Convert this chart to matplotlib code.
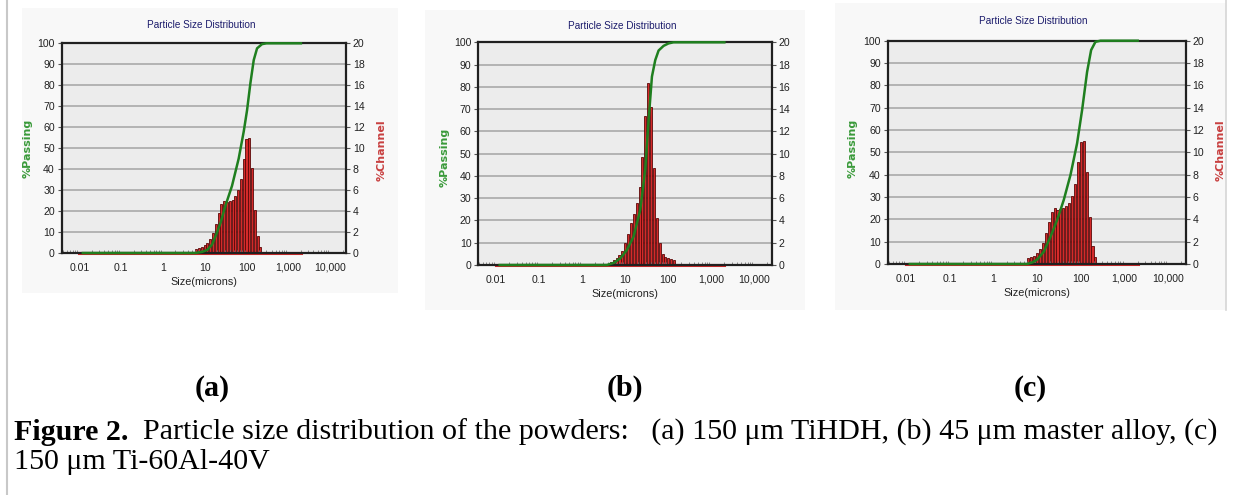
import numpy as np
import matplotlib
matplotlib.use('Agg')
import matplotlib.pyplot as plt
from matplotlib.ticker import LogLocator, NullFormatter
from matplotlib.patches import Rectangle
from matplotlib.lines import Line2D

# ---------------- data ----------------
x_ticks = [0.01, 0.1, 1, 10, 100, 1000, 10000]
x_tick_labels = ['0.01', '0.1', '1', '10', '100', '1,000', '10,000']
left_ticks = [0, 10, 20, 30, 40, 50, 60, 70, 80, 90, 100]
right_ticks = [0, 2, 4, 6, 8, 10, 12, 14, 16, 18, 20]
baseline_x = [0.01, 2000]
baseline_y = [0, 0]

# (a) 150 um TiHDH
sizes_a = [6.31, 7.36, 8.58, 10.0, 11.66, 13.59, 15.85, 18.48, 21.54, 25.12, 29.29, 34.15,
           39.81, 46.42, 54.12, 63.10, 73.56, 85.77, 100.0, 116.6, 135.9, 158.5, 184.8, 215.4]
chan_a = [0.4, 0.5, 0.6, 0.8, 1.0, 1.3, 1.9, 2.8, 3.8, 4.7, 5.0, 4.9,
          5.0, 5.1, 5.4, 6.0, 7.1, 9.0, 10.9, 11.0, 8.1, 4.1, 1.65, 0.6]
cum_a_size = [0.0122, 6.0, 8.6, 11.4, 15, 18, 23.8, 31.3, 45, 65, 86, 103, 124, 149, 179, 235, 300, 2000]
cum_a = [0, 0, 0.5, 1.4, 4.0, 7.8, 14.2, 22.5, 32, 45, 58, 68, 81, 92, 97.6, 99.6, 100, 100]

# (b) 45 um master alloy
sizes_b = [4.64, 5.41, 6.31, 7.36, 8.58, 10.0, 11.66, 13.59, 15.85, 18.48, 21.54, 25.12,
           29.29, 34.15, 39.81, 46.42, 54.12, 63.10, 73.56, 85.77, 100.0, 116.6, 135.9]
chan_b = [0.25, 0.45, 0.65, 0.9, 1.3, 2.0, 2.8, 3.8, 4.6, 5.6, 7.0, 9.7,
          13.4, 16.3, 14.2, 8.7, 4.2, 2.0, 1.0, 0.75, 0.6, 0.5, 0.45]
cum_b_size = [0.0122, 3.76, 5.5, 7.7, 10.9, 15.6, 22.3, 29.1, 34.9, 41.7, 49.8, 59.5, 77.6, 101, 132, 2000]
cum_b = [0, 0, 1.0, 3.0, 6.7, 12.7, 24.7, 42.7, 65, 84.6, 92, 96.3, 98.4, 99.5, 100, 100]

# (c) 150 um Ti-60Al-40V
sizes_c = [6.31, 7.36, 8.58, 10.0, 11.66, 13.59, 15.85, 18.48, 21.54, 25.12, 29.29, 34.15,
           39.81, 46.42, 54.12, 63.10, 73.56, 85.77, 100.0, 116.6, 135.9, 158.5, 184.8, 215.4]
chan_c = [0.5, 0.6, 0.7, 0.95, 1.3, 1.85, 2.8, 3.8, 4.7, 5.0, 4.85, 4.9,
          5.0, 5.2, 5.5, 6.1, 7.2, 9.1, 10.9, 11.05, 8.2, 4.2, 1.65, 0.6]
cum_c_size = [0.0122, 5.9, 8.0, 10, 14.2, 20.2, 28.7, 40.7, 58, 82, 107, 139, 172, 216, 282, 2000]
cum_c = [0, 0, 0.8, 2.0, 5.5, 12.2, 19.7, 28.7, 39.9, 54, 69, 86, 95.8, 99.5, 100, 100]

title_text = 'Particle Size Distribution'
xlabel_text = 'Size(microns)'
left_label = '%Passing'
right_label = '%Channel'
panel_tags = ['(a)', '(b)', '(c)']
caption_bold = 'Figure 2.'
caption_rest = '  Particle size distribution of the powders:   (a) 150 \u03bcm TiHDH, (b) 45 \u03bcm master alloy, (c)'
caption_line2 = '150 \u03bcm Ti-60Al-40V'

# ---------------- style ----------------
W, H = 1237, 495
fig = plt.figure(figsize=(W / 100, H / 100), dpi=100)
fig.patch.set_facecolor('white')

UI_FONT = ['Liberation Sans', 'DejaVu Sans']
SERIF = ['Liberation Serif', 'DejaVu Serif']
GREEN = '#1f7f1f'
RED = '#d02a2a'
TICK_COL = '#222222'
CAP_SIZE = 21.6
TICK_SIZE = 7.6


def fx(px):
    return px / W


def fy(py):
    return 1 - py / H


# light screenshot backgrounds
for (l, t, r, b) in [(22, 8, 398, 293), (425, 10, 805, 310), (835, 3, 1226, 310)]:
    fig.patches.append(Rectangle((fx(l), fy(b)), fx(r - l), (b - t) / H,
                                 transform=fig.transFigure, facecolor='#f8f8f8',
                                 edgecolor='none', zorder=-5))
fig.lines.append(Line2D([fx(7), fx(7)], [0, 1], transform=fig.transFigure,
                        color='#c8c8c8', lw=1.5))
fig.lines.append(Line2D([fx(1226), fx(1226)], [fy(310), 1], transform=fig.transFigure,
                        color='#d6d6d6', lw=1.2))


def draw_panel(box, sizes, chan, cs, cp, title_px, left_lab_px, right_lab_px, xlim):
    l, t, r, b = box
    rect = [fx(l), fy(b), fx(r - l), (b - t) / H]
    ax = fig.add_axes(rect)
    ax2 = ax.twinx()
    ax.set_zorder(3)
    ax2.set_zorder(2)
    ax.patch.set_visible(False)
    ax2.patch.set_visible(True)
    ax2.patch.set_facecolor('#ececec')

    ax.set_xscale('log')
    ax.set_xlim(*xlim)
    ax.set_ylim(0, 100)
    ax2.set_ylim(0, 20)

    ax2.set_yticks(right_ticks)
    ax2.grid(axis='y', color='#a4a4a4', lw=1.1, ls='-')
    ax2.grid(axis='x', which='major', color='#8c8c8c', lw=0.7, ls=(0, (1.5, 1.5)))
    ax2.set_axisbelow(True)

    s = np.array(sizes)
    ratio = s[1] / s[0]
    half = ratio ** 0.36
    left = s / half
    width = s * half - left
    ax2.plot(baseline_x, baseline_y, color=RED, lw=2.2, zorder=1.5, clip_on=False)
    ax2.bar(left, chan, width=width, align='edge', color='#d42a2a',
            edgecolor='#5a0808', linewidth=0.6, zorder=2)

    ax.plot(cs, cp, color=GREEN, lw=1.8, clip_on=False, zorder=5)

    ax.set_yticks(left_ticks)
    ax.set_xticks(x_ticks)
    ax.set_xticklabels(x_tick_labels)
    ax.xaxis.set_minor_locator(LogLocator(base=10, subs=np.arange(2, 10)))
    ax.xaxis.set_minor_formatter(NullFormatter())
    ax.tick_params(axis='x', which='major', length=0, pad=7, labelsize=TICK_SIZE,
                   labelcolor=TICK_COL, labelfontfamily=UI_FONT)
    ax.tick_params(axis='x', which='minor', direction='in', length=2.5,
                   color='#777777', width=0.6)
    ax.tick_params(axis='y', direction='out', length=3, pad=2, labelsize=TICK_SIZE,
                   labelcolor=TICK_COL, color='#555555', labelfontfamily=UI_FONT)
    ax2.tick_params(axis='y', direction='out', length=3, pad=2, labelsize=TICK_SIZE,
                    labelcolor=TICK_COL, color='#555555', labelfontfamily=UI_FONT)
    ax2.tick_params(axis='x', which='both', length=0)
    ax.set_xlabel(xlabel_text, fontsize=7.8, family=UI_FONT, color=TICK_COL, labelpad=3)

    for sp in ax.spines.values():
        sp.set_color('#202020')
        sp.set_linewidth(1.6)
    for sp in ax2.spines.values():
        sp.set_visible(False)

    fig.text(fx(title_px[0]), fy(title_px[1]), title_text, ha='center', va='center',
             fontsize=7.2, color='#1c1c6c', family=UI_FONT)
    fig.text(fx(left_lab_px[0]), fy(left_lab_px[1]), left_label, ha='center', va='center',
             rotation=90, fontsize=8, fontweight='bold', color='#3a9a3a', family='DejaVu Sans')
    if right_lab_px is not None:
        fig.text(fx(right_lab_px[0]), fy(right_lab_px[1]), right_label, ha='center',
                 va='center', rotation=90, fontsize=8, fontweight='bold', color='#c84040',
                 family='DejaVu Sans')
    return ax


draw_panel((61.7, 43.3, 346, 253), sizes_a, chan_a, cum_a_size, cum_a,
           (201, 25), (28, 148), (382, 150), (10 ** -2.42, 10 ** 4.38))
draw_panel((478.3, 42.3, 771.7, 265), sizes_b, chan_b, cum_b_size, cum_b,
           (622, 26), (445, 157), None, (10 ** -2.41, 10 ** 4.40))
draw_panel((887.7, 40.7, 1185.7, 264), sizes_c, chan_c, cum_c_size, cum_c,
           (1033, 21), (853, 148), (1221, 150), (10 ** -2.42, 10 ** 4.40))

# panel tags
for tag, xc in zip(panel_tags, [212, 625, 1030]):
    fig.text(fx(xc), fy(388), tag, ha='center', va='center', fontsize=CAP_SIZE,
             fontweight='bold', family=SERIF)

# caption
t1 = fig.text(fx(14), fy(432), caption_bold, ha='left', va='center', fontsize=CAP_SIZE,
              fontweight='bold', family=SERIF)
fig.canvas.draw()
bb = t1.get_window_extent()
fig.text(bb.x1 / W, fy(432), caption_rest, ha='left', va='center', fontsize=CAP_SIZE,
         family=SERIF)
fig.text(fx(14), fy(462), caption_line2, ha='left', va='center', fontsize=CAP_SIZE,
         family=SERIF)

fig.savefig('out.png', dpi=100, facecolor='white')
